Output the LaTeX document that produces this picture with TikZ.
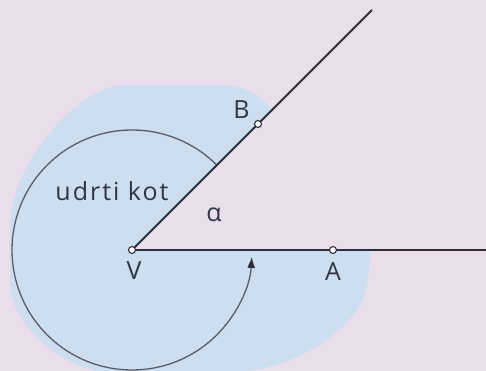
\documentclass[tikz,border=0pt]{standalone}
\usepackage{fontspec}
\setmainfont{Open Sans}
\usetikzlibrary{arrows.meta,calc}
\definecolor{bgpink}{RGB}{235,222,236}
\definecolor{blobblue}{RGB}{204,222,240}
\definecolor{inkline}{RGB}{45,47,58}
\definecolor{circline}{RGB}{88,93,106}
\definecolor{txt}{RGB}{48,55,66}
\tikzset{
  ray/.style={draw=inkline, line width=2pt},
  pt/.style={circle, draw=inkline, fill=white, line width=1.1pt, inner sep=0pt, minimum size=7pt},
  lbl/.style={text=txt, font=\fontsize{25}{30}\selectfont, inner sep=0pt, anchor=base},
  turn/.style={draw=circline, line width=1.3pt, -{Latex[length=11pt,width=8pt,color=inkline]}}
}
\begin{document}
\begin{tikzpicture}[x=1pt,y=1pt]
\useasboundingbox (0,0) rectangle (486,371);
\fill[bgpink] (0,0) rectangle (486,371);
\coordinate (V) at (132,121);
\coordinate (A) at (333,121);
\coordinate (B) at (258,247);
\coordinate (E1) at (372,361);
\coordinate (E2) at (486,121);
\begin{scope}
\clip (0,0) rectangle (486,371);
\fill[blobblue] (V) -- (272,261) .. controls (258,279) and (240,286) .. (215,286)
  -- (125,286) .. controls (80,286) and (12,211) .. (10,146)
  -- (10,81) .. controls (15,51) and (50,9) .. (100,-1)
  -- (235,-1) .. controls (285,0) and (358,36) .. (367,86)
  -- (371,121) -- cycle;
\end{scope}
\draw[turn] (V) ++(45:120pt) arc[start angle=45, end angle=356.7, radius=120pt];
\draw[ray] (V) -- (E1);
\draw[ray] (V) -- (E2);
\node[pt] (Vp) at (V) {};
\node[pt] (Ap) at (A) {};
\node[pt] (Bp) at (B) {};
\node[lbl] (Bl) at (241.5,252) {B};
\node[lbl] (Vl) at (134,91) {V};
\node[lbl] (Al) at (333,90) {A};
\node[lbl] (al) at (214,149) {α};
\node[lbl] (ud) at (112,170) {\addfontfeatures{LetterSpace=8}udrti kot};
\end{tikzpicture}
\end{document}
